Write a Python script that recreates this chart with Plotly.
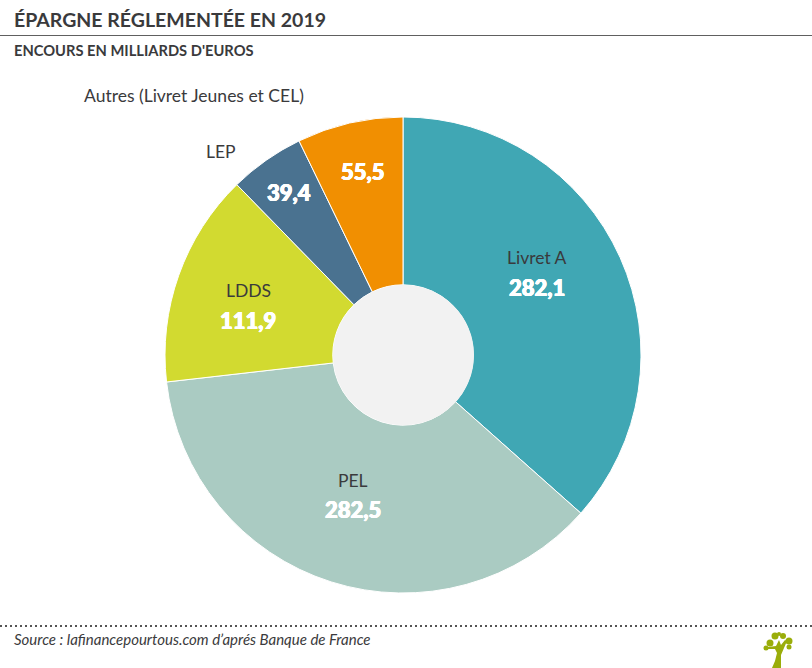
import plotly.graph_objects as go

W, H = 812, 668
categories = ["Livret A", "PEL", "LDDS", "LEP", "Autres (Livret Jeunes et CEL)"]
values = [282.1, 282.5, 111.9, 39.4, 55.5]
value_labels = ["282,1", "282,5", "111,9", "39,4", "55,5"]
colors = ["#40a7b4", "#aacbc2", "#d2da30", "#4a7290", "#f18f01"]
title = "ÉPARGNE RÉGLEMENTÉE EN 2019"
subtitle = "ENCOURS EN MILLIARDS D'EUROS"
source = "Source : lafinancepourtous.com d’aprés Banque de France"
FONT = "Lato"
DARK = "#3a3a3c"

def px(x): return x / W
def py(y): return 1 - y / H

fig = go.Figure(go.Pie(
    labels=categories, values=values, sort=False, direction="clockwise", rotation=0,
    hole=0.295, textinfo="none", hoverinfo="label+value",
    marker=dict(colors=colors, line=dict(color="#ffffff", width=1)),
    domain=dict(x=[px(165), px(641)], y=[py(593), py(117)]),
    showlegend=False,
))

def txt(x, y, s, size, color=DARK, anchor="center", weight=None, shadow=None):
    f = dict(family=FONT, size=size, color=color)
    if weight:
        f["weight"] = weight
    if shadow:
        f["shadow"] = shadow
    return dict(x=px(x), y=py(y), xref="paper", yref="paper", text=s, showarrow=False,
                xanchor=anchor, yanchor="middle", font=f, borderpad=0, align=anchor)

label_pos = [(537, 257), (353, 480), (248, 290), (221, 151), (194, 95)]
value_pos = [(537, 287), (353, 509), (248, 320), (289, 192), (362, 172)]
THICK = "0.5px 0 0 #ffffff, -0.5px 0 0 #ffffff, 0 0.4px 0 #ffffff, 0 -0.4px 0 #ffffff"
annotations = [
    txt(12.5, 19, title, 19.5, anchor="left", weight=700),
    txt(12.5, 50, subtitle, 14.7, anchor="left", weight=700),
    txt(13, 639, f"<i>{source}</i>", 15, anchor="left"),
]
for name, lp, vl, vp in zip(categories, label_pos, value_labels, value_pos):
    annotations.append(txt(lp[0], lp[1], name, 17.5))
    annotations.append(txt(vp[0], vp[1], vl, 22, color="#ffffff", weight=900, shadow=THICK))

def path(points):
    return "M " + " L ".join(f"{px(a):.5f},{py(b):.5f}" for a, b in points) + " Z"

GREEN = "#9aad0a"
def branch(points):
    return dict(type="path", xref="paper", yref="paper", fillcolor=GREEN, line=dict(width=0), path=path(points))

shapes = [
    dict(type="circle", xref="paper", yref="paper", x0=px(333), x1=px(474), y0=py(425), y1=py(285),
         fillcolor="#f2f2f2", line=dict(width=0), layer="above"),
    dict(type="line", xref="paper", yref="paper", x0=0, x1=1, y0=py(35.5), y1=py(35.5),
         line=dict(color="#606060", width=1.2)),
    dict(type="line", xref="paper", yref="paper", x0=0, x1=1, y0=py(626), y1=py(626),
         line=dict(color="#555555", width=2, dash="2px,3px")),
    branch([(772, 668), (775, 661), (777, 653), (775, 649), (768, 649), (768, 647), (776, 646),
            (779, 640), (781, 645), (785, 640), (787, 641), (784, 648), (781, 655), (781, 668)]),
]
for cx, cy, r in [(770, 643, 3.5), (766, 648, 2.5), (775, 636, 3.5), (783, 636, 3), (789, 641, 3.5),
                  (789, 647, 2.5), (779, 634, 2)]:
    shapes.append(dict(type="circle", xref="paper", yref="paper", x0=px(cx - r), x1=px(cx + r),
                       y0=py(cy + r), y1=py(cy - r), fillcolor=GREEN, line=dict(width=0)))

fig.update_layout(width=W, height=H, margin=dict(l=0, r=0, t=0, b=0), paper_bgcolor="#ffffff",
                  annotations=annotations, shapes=shapes)
fig.write_html("out.html", config={"displayModeBar": False},
               post_script="document.body.style.margin='0';document.documentElement.style.overflow='hidden';")
